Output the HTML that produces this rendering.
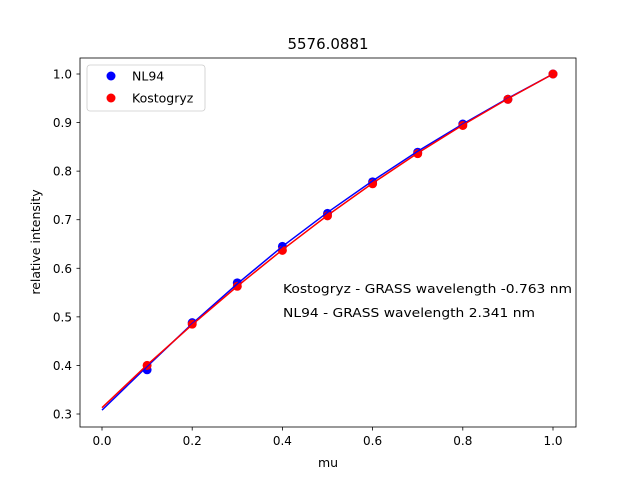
<!DOCTYPE html>
<html><head><meta charset="utf-8"><style>
body{margin:0;background:#fff}
svg{font-family:"DejaVu Sans","Liberation Sans",sans-serif}
</style></head><body>
<svg id="c" width="640" height="480">
<rect width="640" height="480" fill="#fff"/>
<text x="328" y="49" font-size="15" text-anchor="middle">5576.0881</text>
<g id="plot"></g>
<rect x="80" y="58" width="496" height="369" fill="none" stroke="#000" stroke-width="0.8"/>
<text x="328" y="467" font-size="12.5" text-anchor="middle">mu</text>
<text transform="translate(40,242) rotate(-90)" font-size="12.5" text-anchor="middle">relative intensity</text>
<text x="283" y="293" font-size="12.5" textLength="289" lengthAdjust="spacingAndGlyphs">Kostogryz - GRASS wavelength -0.763 nm</text>
<text x="283" y="317" font-size="12.5" textLength="252" lengthAdjust="spacingAndGlyphs">NL94 - GRASS wavelength 2.341 nm</text>
<g>
<rect x="87" y="65" width="118" height="46" rx="3" fill="#fff" stroke="#ccc" stroke-width="0.8"/>
<circle cx="111" cy="76" r="4.5" fill="#0000ff"/>
<text x="132" y="80.5" font-size="12.5">NL94</text>
<circle cx="111" cy="98" r="4.5" fill="#ff0000"/>
<text x="132" y="102.5" font-size="12.5">Kostogryz</text>
</g>
</svg>
<script>
const xTicks=[0,0.2,0.4,0.6,0.8,1.0];
const xTickLabels=["0.0","0.2","0.4","0.6","0.8","1.0"];
const yTicks=[0.3,0.4,0.5,0.6,0.7,0.8,0.9,1.0];
const yTickLabels=["0.3","0.4","0.5","0.6","0.7","0.8","0.9","1.0"];
const pointMu=[0.1,0.2,0.3,0.4,0.5,0.6,0.7,0.8,0.9,1.0];
const nl94Points=[0.391,0.488,0.570,0.645,0.713,0.778,0.839,0.897,0.948,1.0];
const kostoPoints=[0.400,0.485,0.563,0.637,0.708,0.774,0.836,0.894,0.948,1.0];
const lineMu=[0,0.1,0.2,0.3,0.4,0.5,0.6,0.7,0.8,0.9,1.0];
const nl94Line=[0.308,0.398,0.486,0.568,0.645,0.715,0.780,0.841,0.897,0.950,1.0];
const kostoLine=[0.313,0.401,0.484,0.563,0.638,0.709,0.775,0.837,0.895,0.949,1.0];
const NS="http://www.w3.org/2000/svg";
const X=v=>102+v*451, Y=v=>414-(v-0.3)*(340/0.7);
const g=document.getElementById('plot');
function mk(t,a){const e=document.createElementNS(NS,t);for(const k in a)e.setAttribute(k,a[k]);g.appendChild(e);return e;}
xTicks.forEach((v,i)=>{
 const l=mk('line',{x1:X(v),x2:X(v),y1:427,y2:430.5,stroke:'#000','stroke-width':0.8});
 
 
 const t=mk('text',{x:X(v),y:445,'font-size':12,'text-anchor':'middle'});t.textContent=xTickLabels[i];
 
 
});
yTicks.forEach((v,i)=>{
 const l=mk('line',{x1:76.5,x2:80,y1:Y(v),y2:Y(v),stroke:'#000','stroke-width':0.8});
 
 
 const t=mk('text',{x:72,y:Y(v)+4.5,'font-size':12,'text-anchor':'end'});t.textContent=yTickLabels[i];
 
 
});
function pts(vals,col,name){vals.forEach((v,i)=>{
 const c=mk('circle',{cx:X(pointMu[i]),cy:Y(v),r:4.5,fill:col});
 
 
});}
function line(vals,col,name){
 const p=mk('polyline',{points:vals.map((v,i)=>X(lineMu[i])+','+Y(v)).join(' '),fill:'none',stroke:col,'stroke-width':1.5});
 
 
}
pts(nl94Points,'#0000ff','nl94-point');
pts(kostoPoints,'#ff0000','kostogryz-point');
line(nl94Line,'#0000ff','nl94-fit-line');
line(kostoLine,'#ff0000','kostogryz-fit-line');
</script>
</body></html>
